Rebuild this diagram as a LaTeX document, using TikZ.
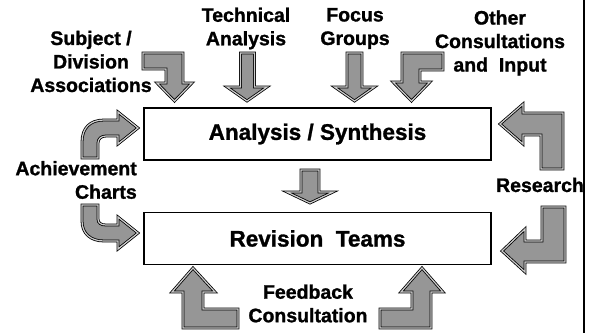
\documentclass[tikz,border=0pt]{standalone}
\usepackage{fontspec}
\setmainfont{Liberation Sans}[BoldFeatures={FakeBold=1.2}]

\definecolor{arrowfill}{RGB}{150,150,150}
\definecolor{arrowedge}{RGB}{205,205,205}

\tikzset{
    stagebox/.style={draw, line width=1.8pt, minimum width=347pt, minimum height=52pt,
        font=\fontsize{22.5}{27}\selectfont\bfseries},
    sourcelabel/.style={align=center, inner sep=0pt,
        font=\fontsize{19.5}{23.5}\selectfont\bfseries},
    blockarrow/.style={fill=arrowfill, draw=black, line width=0.8pt,
        double=arrowedge, double distance=1.2pt, line join=miter}
}

\begin{document}
\begin{tikzpicture}[x=1pt, y=-1pt]

        \useasboundingbox (0,0) rectangle (592,333);

        % the two stages
        \node [stagebox] (synth) at (317.5,134) {Analysis / Synthesis};
        \node [stagebox] (teams) at (317.5,238.5) {Revision\ \ Teams};

        % inputs
        \node [sourcelabel] (subject) at (91,61.5) {Subject /\\Division\\Associations};
        \node [sourcelabel] (tech) at (246,28.5) {Technical\\Analysis};
        \node [sourcelabel] (focus) at (355,28.5) {Focus\\Groups};
        \node [sourcelabel] (other) at (500,43) {Other\\Consultations\\and\ \ Input};
        \node [sourcelabel, align=right, anchor=east] (charts) at (137,180) {Achievement\\Charts};
        \node [sourcelabel] (research) at (540,185) {Research};
        \node [sourcelabel] (feedback) at (308,303.5) {Feedback\\Consultation};

        % down arrows from the top
        \draw [blockarrow] (143,53) -- (183,53) -- (183,83) -- (192,83) -- (174.5,101)
            -- (157,83) -- (166,83) -- (166,69) -- (143,69) -- cycle;
        \draw [blockarrow] (240.5,53) -- (254.5,53) -- (254.5,87) -- (267,87) -- (247,101)
            -- (227,87) -- (240.5,87) -- cycle;
        \draw [blockarrow] (347,53) -- (362,53) -- (362,87) -- (374.5,87) -- (354.5,101)
            -- (334.5,87) -- (347,87) -- cycle;
        \draw [blockarrow] (443,53) -- (402,53) -- (402,82) -- (393,82) -- (411.5,101)
            -- (430,82) -- (420,82) -- (420,70) -- (443,70) -- cycle;

        % between the stages
        \draw [blockarrow] (301,170) -- (319,170) -- (319,192) -- (333,192) -- (310,203)
            -- (287,192) -- (301,192) -- cycle;

        % achievement charts
        \draw [blockarrow] (98,158) -- (82,158) -- (82,142) .. controls (82,128) and (90,120) .. (104,120)
            -- (118,120) -- (118,112) -- (138,128) -- (118,144) -- (118,136) -- (106,136)
            .. controls (101,136) and (98,139) .. (98,143) -- cycle;
        \draw [blockarrow] (82,205) -- (98,205) -- (98,219) .. controls (98,223) and (101,225) .. (106,225)
            -- (118,225) -- (118,217) -- (138,233) -- (118,249) -- (118,241) -- (104,241)
            .. controls (90,241) and (82,233) .. (82,221) -- cycle;

        % research
        \draw [blockarrow] (500,124) -- (523,104) -- (523,113) -- (563,113) -- (563,169)
            -- (541,169) -- (541,135) -- (523,135) -- (523,144) -- cycle;
        \draw [blockarrow] (502,251) -- (525,229) -- (525,241) -- (542,241) -- (542,207)
            -- (565,207) -- (565,262) -- (525,262) -- (525,272) -- cycle;

        % feedback
        \draw [blockarrow] (193,268) -- (215,292) -- (203,292) -- (203,309) -- (238,309)
            -- (238,328) -- (183,328) -- (183,292) -- (172,292) -- cycle;
        \draw [blockarrow] (422,268) -- (443,292) -- (431,292) -- (431,328) -- (380,328)
            -- (380,309) -- (412,309) -- (412,292) -- (401,292) -- cycle;

        \draw [line width=2pt] (584,0) -- (584,333);

    \end{tikzpicture}
\end{document}
